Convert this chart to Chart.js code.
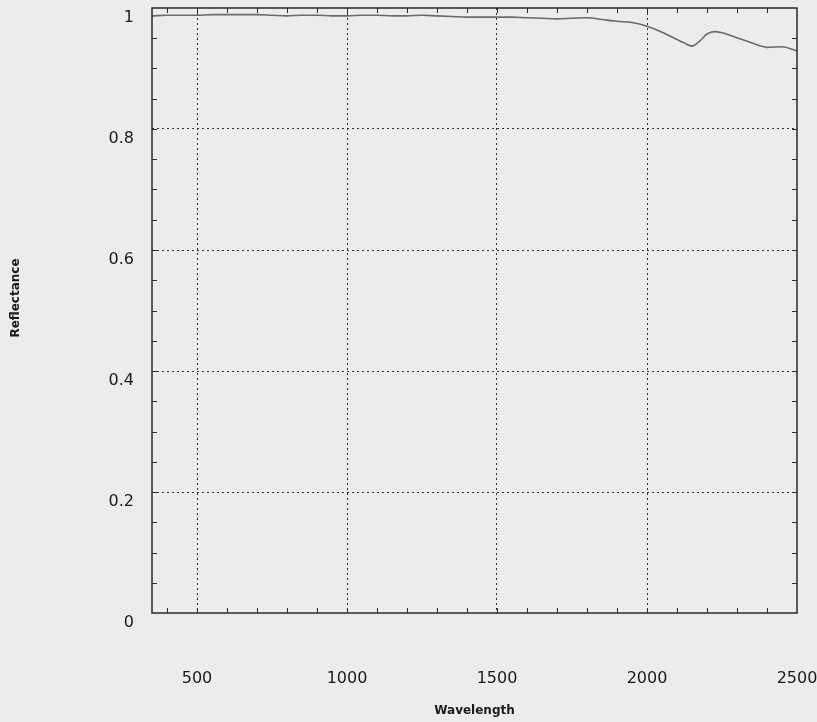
<!DOCTYPE html>
<html>
<head>
<meta charset="utf-8">
<script src="https://cdn.jsdelivr.net/npm/chart.js@4/dist/chart.umd.min.js"></script>
<style>
  html, body { margin: 0; padding: 0; background: #ececec; }
  #wrap { width: 817px; height: 722px; position: relative; }
</style>
</head>
<body>
<div id="wrap"><canvas id="c" width="817" height="722"></canvas></div>
<script>
// Data
const wavelengths = [350,400,450,500,550,600,650,700,750,800,850,900,950,1000,1050,1100,1150,1200,1250,1300,1350,1400,1450,1500,1550,1600,1650,1700,1750,1800,1850,1900,1950,2000,2050,2100,2125,2150,2175,2200,2225,2250,2300,2350,2400,2450,2500];
const reflectance = [0.987,0.988,0.988,0.988,0.989,0.989,0.989,0.989,0.988,0.987,0.988,0.988,0.987,0.987,0.988,0.988,0.987,0.987,0.988,0.987,0.986,0.985,0.985,0.985,0.985,0.984,0.983,0.982,0.983,0.984,0.981,0.978,0.976,0.970,0.960,0.948,0.942,0.937,0.945,0.957,0.961,0.959,0.951,0.942,0.935,0.936,0.929];
const xTickLabels = [500, 1000, 1500, 2000, 2500];
const yTickLabels = [0, 0.2, 0.4, 0.6, 0.8, 1];
const xTitle = 'Wavelength';
const yTitle = 'Reflectance';

const points = wavelengths.map((w, i) => ({ x: w, y: reflectance[i] }));

const frame = {
  id: 'frame',
  afterDraw(chart) {
    const { ctx, chartArea: a, scales: { x, y } } = chart;
    ctx.save();
    ctx.strokeStyle = '#2a2a2a';
    ctx.lineWidth = 1.5;
    ctx.strokeRect(a.left, a.top, a.right - a.left, a.bottom - a.top);
    ctx.lineWidth = 1;
    ctx.beginPath();
    for (let v = 400; v < 2500; v += 100) {
      const px = Math.round(x.getPixelForValue(v)) + 0.5;
      ctx.moveTo(px, a.bottom); ctx.lineTo(px, a.bottom - 5);
      ctx.moveTo(px, a.top); ctx.lineTo(px, a.top + 5);
    }
    for (let k = 1; k < 20; k++) {
      const py = Math.round(y.getPixelForValue(k * 0.05)) + 0.5;
      ctx.moveTo(a.left, py); ctx.lineTo(a.left + 5, py);
      ctx.moveTo(a.right, py); ctx.lineTo(a.right - 5, py);
    }
    ctx.stroke();
    ctx.fillStyle = '#1a1a1a';
    ctx.font = 'bold 12px "DejaVu Sans"';
    ctx.textAlign = 'center';
    ctx.textBaseline = 'middle';
    ctx.translate(16, 298);
    ctx.rotate(-Math.PI / 2);
    ctx.fillText(yTitle, 0, 0);
    ctx.restore();
  }
};

new Chart(document.getElementById('c'), {
  type: 'line',
  data: {
    datasets: [{
      data: points,
      borderColor: '#6a6a6a',
      borderWidth: 1.6,
      pointRadius: 0,
      tension: 0.4,
      cubicInterpolationMode: 'monotone',
      fill: false
    }]
  },
  options: {
    responsive: false,
    animation: false,
    layout: { padding: { left: 0, right: 20, top: 8, bottom: 0 } },
    plugins: { legend: { display: false }, tooltip: { enabled: false } },
    scales: {
      x: {
        type: 'linear',
        min: 350,
        max: 2500,
        afterBuildTicks(s) { s.ticks = xTickLabels.map(v => ({ value: v })); },
        afterFit(s) { s.height = 109; s.paddingLeft = 0; s.paddingRight = 0; },
        border: { display: false, dash: [2, 3] },
        grid: {
          drawTicks: false,
          color: ctx => (ctx.tick && ctx.tick.value < 2500) ? '#333333' : 'transparent',
          lineWidth: 1
        },
        ticks: {
          padding: 56,
          color: '#1a1a1a',
          font: { family: '"DejaVu Sans"', size: 16 },
          maxRotation: 0,
          callback: v => String(v)
        },
        title: {
          display: true,
          text: xTitle,
          color: '#1a1a1a',
          font: { family: '"DejaVu Sans"', size: 12, weight: 'bold' },
          padding: { top: 0, bottom: 4 }
        }
      },
      y: {
        min: 0,
        max: 1,
        afterBuildTicks(s) { s.ticks = yTickLabels.map(v => ({ value: v })); },
        afterFit(s) { s.width = 152; s.paddingTop = 0; s.paddingBottom = 0; },
        border: { display: false, dash: [2, 3] },
        grid: {
          drawTicks: false,
          color: ctx => (ctx.tick && ctx.tick.value > 0 && ctx.tick.value < 1) ? '#333333' : 'transparent',
          lineWidth: 1
        },
        ticks: {
          padding: 18,
          labelOffset: 10,
          color: '#1a1a1a',
          font: { family: '"DejaVu Sans"', size: 16 },
          callback: v => String(v)
        }
      }
    }
  },
  plugins: [frame]
});
</script>
</body>
</html>
